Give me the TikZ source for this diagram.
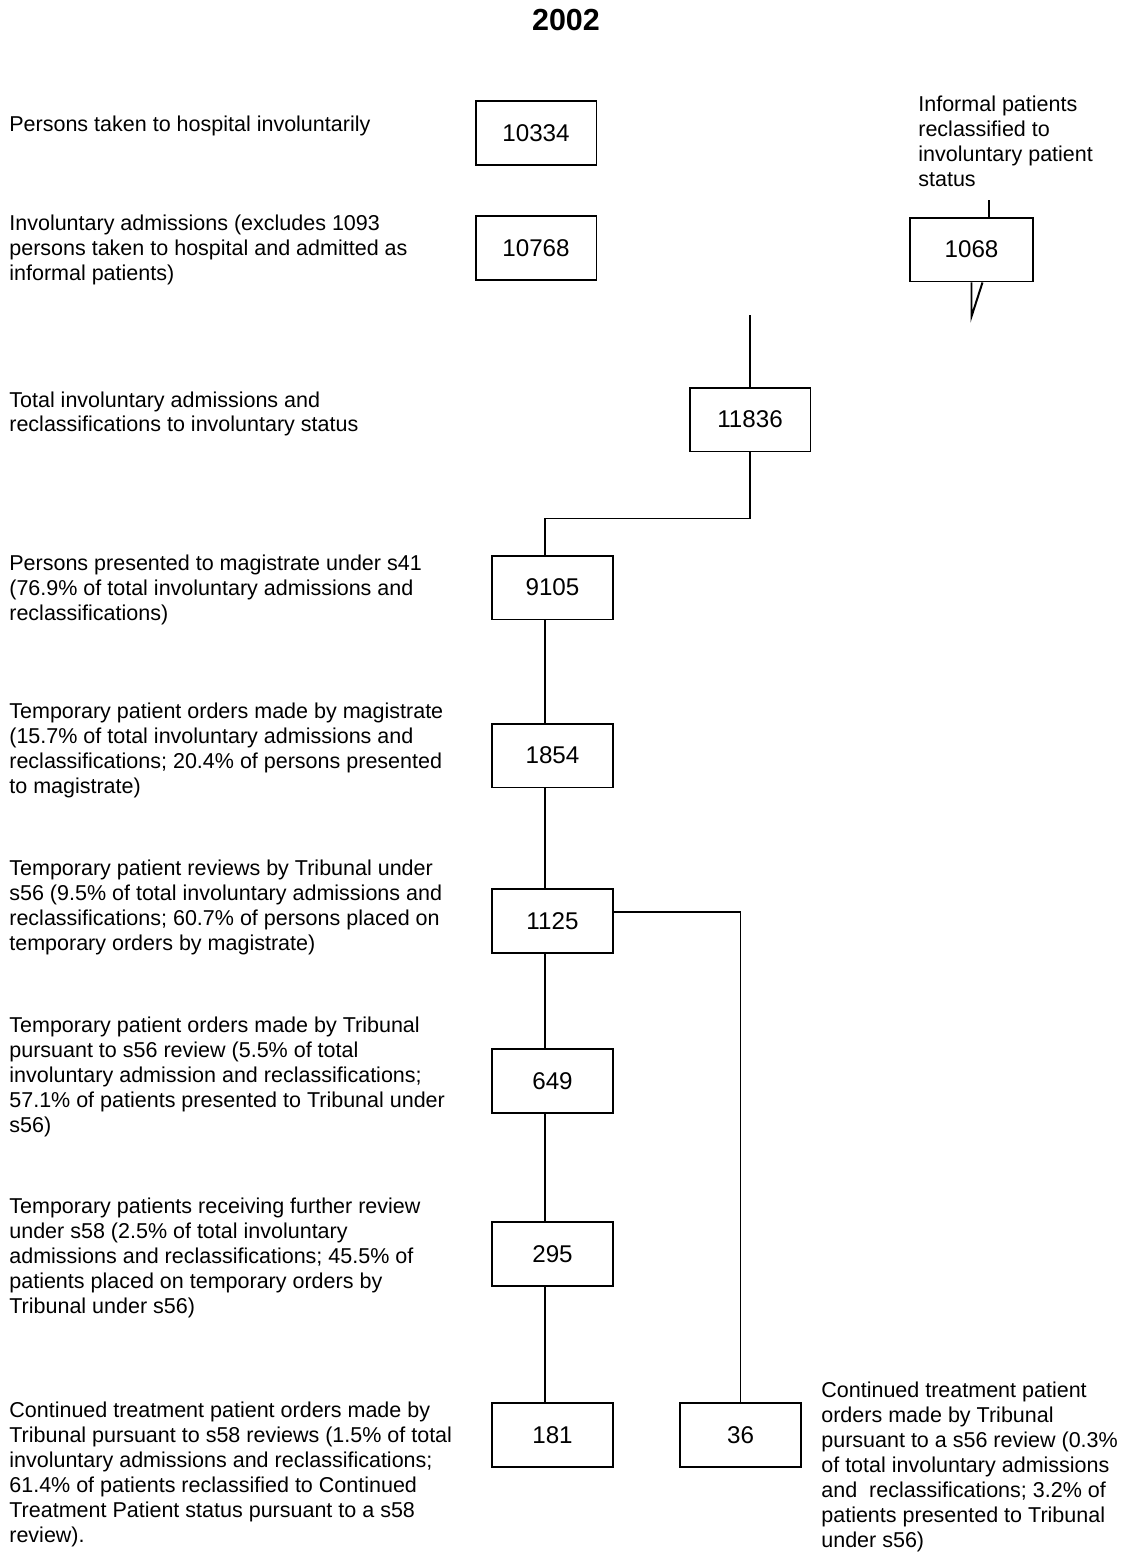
\documentclass[tikz,border=0pt]{standalone}
\usepackage{fontspec}
\setmainfont{Liberation Sans}
\usepackage{tikz}
\usetikzlibrary{calc,positioning}
\definecolor{ink}{HTML}{000000}
\definecolor{paper}{HTML}{FFFFFF}
\tikzset{
  base/.style={draw=ink, line width=1.1pt, line cap=butt, line join=miter},
  numbox/.style={draw=ink, line width=1.1pt, minimum width=67.5pt, minimum height=35.7pt, inner sep=0pt, text=ink, font=\fontsize{13.5}{16}\selectfont},
  lab/.style={text=ink, anchor=base west, align=left, inner sep=0pt, font=\fontsize{12}{13.9}\selectfont},
  ttl/.style={text=ink, anchor=base, inner sep=0pt, font=\fontsize{17}{20}\selectfont\bfseries},
}

\begin{document}
\begin{tikzpicture}[x=0.558pt, y=-0.558pt]
\useasboundingbox[fill=paper] (0,0) rectangle (1124,1555);
% title
\node[ttl] (title) at (566,30) {2002};

% count boxes
\node[numbox] (n10334) at (536,133) {10334};
\node[numbox] (n10768) at (536,248) {10768};
\node[numbox, minimum width=68.6pt] (n1068) at (971.5,249.5) {1068};
\node[numbox] (n11836) at (750,419.5) {11836};
\node[numbox] (n9105) at (552.5,587.5) {9105};
\node[numbox] (n1854) at (552.5,755.5) {1854};
\node[numbox] (n1125) at (552.5,921) {1125};
\node[numbox] (n649) at (552.5,1081) {649};
\node[numbox] (n295) at (552.5,1254) {295};
\node[numbox] (n181) at (552.5,1435) {181};
\node[numbox] (n36) at (740.5,1435) {36};

% connectors
\coordinate (spine) at (545,0);
\coordinate (in1068) at (989,200);
\coordinate (in11836) at (750,315);
\draw[base] (in1068) -- (in1068 |- n1068.north);
\draw[base] (n1068.south) -- ++(0,34) -- ($(n1068.south)+(11,0)$);
\draw[base] (in11836) -- (n11836.north);
\draw[base] (n11836.south) -- ++(0,66) -| (spine |- n9105.north);
\foreach \a/\b in {n9105/n1854, n1854/n1125, n1125/n649, n649/n295, n295/n181}{
  \draw[base] (spine |- \a.south) -- (spine |- \b.north);
}
\draw[base] ($(n1125.east)+(0,-9)$) -| (n36.north);

% labels (placed at the baseline of their last line)
\node[lab] (t10334) at (9,131) {Persons taken to hospital involuntarily};
\node[lab] (t10768) at (9,280.8) {Involuntary admissions (excludes 1093\\persons taken to hospital and admitted as\\informal patients)};
\node[lab] (t1068) at (918,186.7) {Informal patients\\reclassified to\\involuntary patient\\status};
\node[lab] (t11836) at (9,431.9) {Total involuntary admissions and\\reclassifications to involuntary status};
\node[lab] (t9105) at (9,620.8) {Persons presented to magistrate under s41\\(76.9\% of total involuntary admissions and\\reclassifications)};
\node[lab] (t1854) at (9,793.7) {Temporary patient orders made by magistrate\\(15.7\% of total involuntary admissions and\\reclassifications; 20.4\% of persons presented\\to magistrate)};
\node[lab] (t1125) at (9,950.7) {Temporary patient reviews by Tribunal under\\s56 (9.5\% of total involuntary admissions and\\reclassifications; 60.7\% of persons placed on\\temporary orders by magistrate)};
\node[lab] (t649) at (9,1132.6) {Temporary patient orders made by Tribunal\\pursuant to s56 review (5.5\% of total\\involuntary admission and reclassifications;\\57.1\% of patients presented to Tribunal under\\s56)};
\node[lab] (t295) at (9,1313.6) {Temporary patients receiving further review\\under s58 (2.5\% of total involuntary\\admissions and reclassifications; 45.5\% of\\patients placed on temporary orders by\\Tribunal under s56)};
\node[lab] (t181) at (9,1542.5) {Continued treatment patient orders made by\\Tribunal pursuant to s58 reviews (1.5\% of total\\involuntary admissions and reclassifications;\\61.4\% of patients reclassified to Continued\\Treatment Patient status pursuant to a s58\\review).};
\node[lab] (t36) at (821,1547.4) {Continued treatment patient\\orders made by Tribunal\\pursuant to a s56 review (0.3\%\\of total involuntary admissions\\and~~reclassifications; 3.2\% of\\patients presented to Tribunal\\under s56)};
\end{tikzpicture}
\end{document}
